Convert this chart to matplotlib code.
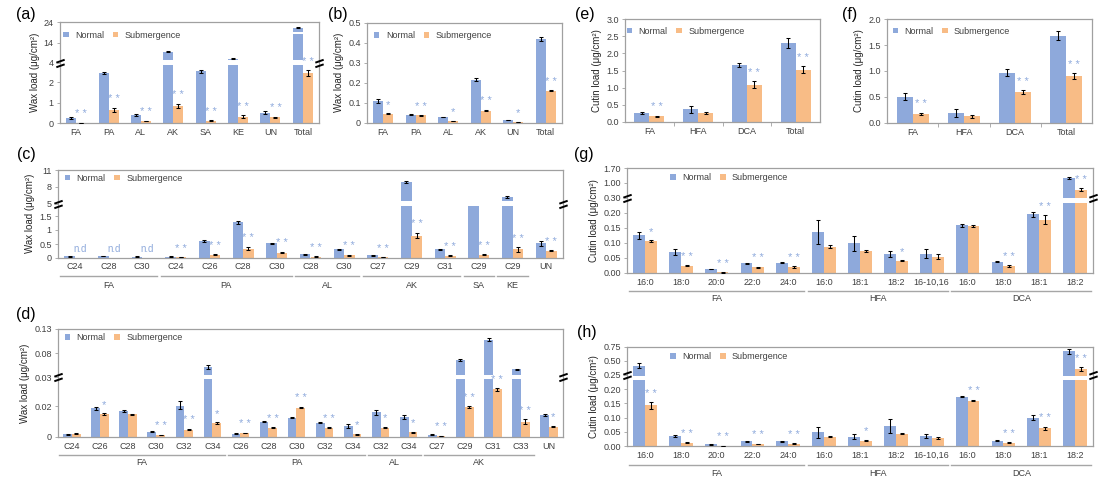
import numpy as np
import matplotlib
matplotlib.use('Agg')
import matplotlib.pyplot as plt
from matplotlib.patches import Patch
from matplotlib.path import Path

plt.rcParams['font.family'] = ['Liberation Sans', 'DejaVu Sans']

BLUE = '#8EA9DB'
ORANGE = '#F8BC86'
STAR = '#8FAADC'
FRAME = '#A0A0A0'
TXT = '#404040'

# ---------------- data ----------------
a_cats = ['FA', 'PA', 'AL', 'AK', 'SA', 'KE', 'UN', 'Total']
a_normal = [0.24, 2.93, 0.40, 9.4, 3.10, 5.9, 0.52, 21.3]
a_sub = [0.02, 0.65, 0.11, 0.84, 0.13, 0.32, 0.29, 2.93]
a_nerr = [0.05, 0.12, 0.03, 0.25, 0.12, 0.25, 0.08, 0.3]
a_serr = [0.01, 0.10, 0.02, 0.12, 0.02, 0.06, 0.03, 0.30]
a_stars = ['**'] * 8
a_ticks = [0, 1, 2, 4, 14, 24]

b_cats = ['FA', 'PA', 'AL', 'AK', 'UN', 'Total']
b_normal = [0.11, 0.04, 0.028, 0.215, 0.012, 0.42]
b_sub = [0.045, 0.036, 0.008, 0.06, 0.004, 0.16]
b_nerr = [0.01, 0.002, 0.002, 0.007, 0.001, 0.01]
b_serr = [0.003, 0.002, 0.002, 0.004, 0.001, 0.003]
b_stars = ['*', '**', '*', '**', '*', '**']
b_ticks = [0, 0.1, 0.2, 0.3, 0.4, 0.5]

c_cats = ['C24', 'C28', 'C30', 'C24', 'C26', 'C28', 'C30', 'C28', 'C30',
          'C27', 'C29', 'C31', 'C29', 'C29', 'UN']
c_normal = [0.04, 0.06, 0.03, 0.03, 0.6, 1.28, 0.52, 0.12, 0.3, 0.08, 8.8, 0.3, 4.2, 6.2, 0.52]
c_sub = [0, 0, 0, 0.005, 0.11, 0.33, 0.18, 0.03, 0.08, 0.01, 0.8, 0.06, 0.11, 0.3, 0.25]
c_nerr = [0.01, 0.01, 0.01, 0.01, 0.03, 0.06, 0.02, 0.01, 0.02, 0.01, 0.15, 0.02, 0, 0.2, 0.1]
c_serr = [0, 0, 0, 0.002, 0.02, 0.06, 0.03, 0.01, 0.02, 0.005, 0.1, 0.02, 0.02, 0.08, 0.02]
c_stars = ['n.d', 'n.d', 'n.d', '**', '**', '**', '**', '**', '**', '**', '**', '**', '**', '**', '**']
c_groups = [('FA', 0, 2), ('PA', 3, 6), ('AL', 7, 8), ('AK', 9, 11), ('SA', 12, 12), ('KE', 13, 13)]
c_ticks = [0, 0.5, 1, 1.5, 5, 8, 11]

d_cats = ['C24', 'C26', 'C28', 'C30', 'C32', 'C34', 'C26', 'C28', 'C30', 'C32', 'C34',
          'C32', 'C34', 'C27', 'C29', 'C31', 'C33', 'UN']
d_normal = [0.0017, 0.0185, 0.0167, 0.0033, 0.020, 0.052, 0.002, 0.0098, 0.0124, 0.0091, 0.007,
            0.0159, 0.0128, 0.0013, 0.066, 0.108, 0.0467, 0.0141]
d_sub = [0.002, 0.0148, 0.0146, 0.001, 0.0046, 0.0087, 0.0024, 0.0059, 0.019, 0.0059, 0.0017,
         0.0059, 0.0028, 0.0005, 0.0193, 0.0258, 0.0098, 0.0065]
d_nerr = [0.0003, 0.001, 0.0008, 0.0004, 0.0018, 0.004, 0.0003, 0.0004, 0.0005, 0.0004, 0.0015,
          0.0015, 0.0012, 0.0002, 0.002, 0.003, 0.001, 0.0006]
d_serr = [0.0003, 0.0005, 0.0004, 0.0002, 0.0005, 0.0006, 0.0003, 0.0004, 0.0005, 0.0004, 0.0003,
          0.0005, 0.0004, 0.0002, 0.0005, 0.0004, 0.0015, 0.0005]
d_stars = ['', '*', '', '**', '**', '*', '**', '**', '**', '**', '*', '*', '*', '**', '**', '**', '**', '*']
d_groups = [('FA', 0, 5), ('PA', 6, 10), ('AL', 11, 12), ('AK', 13, 16)]
d_ticks = [0, 0.02, 0.03, 0.08, 0.13]

e_cats = ['FA', 'HFA', 'DCA', 'Total']
e_normal = [0.26, 0.36, 1.65, 2.30]
e_sub = [0.16, 0.25, 1.08, 1.52]
e_nerr = [0.02, 0.10, 0.06, 0.14]
e_serr = [0.02, 0.03, 0.10, 0.10]
e_stars = ['**', '', '**', '**']
e_ticks = [0.0, 0.5, 1.0, 1.5, 2.0, 2.5, 3.0]

f_cats = ['FA', 'HFA', 'DCA', 'Total']
f_normal = [0.50, 0.19, 0.97, 1.68]
f_sub = [0.17, 0.12, 0.59, 0.90]
f_nerr = [0.07, 0.08, 0.07, 0.09]
f_serr = [0.02, 0.02, 0.04, 0.06]
f_stars = ['**', '', '**', '**']
f_ticks = [0.0, 0.5, 1.0, 1.5, 2.0]

g_cats = ['16:0', '18:0', '20:0', '22:0', '24:0', '16:0', '18:1', '18:2', '16-10,16',
          '16:0', '18:0', '18:1', '18:2']
g_normal = [0.125, 0.07, 0.013, 0.031, 0.034, 0.137, 0.098, 0.064, 0.064, 0.158, 0.037, 0.196, 1.22]
g_sub = [0.105, 0.023, 0.001, 0.018, 0.019, 0.087, 0.073, 0.040, 0.053, 0.157, 0.022, 0.176, 0.67]
g_nerr = [0.012, 0.01, 0.001, 0.003, 0.002, 0.04, 0.025, 0.01, 0.015, 0.005, 0.002, 0.01, 0.03]
g_serr = [0.003, 0.002, 0.0005, 0.002, 0.002, 0.005, 0.003, 0.002, 0.008, 0.003, 0.003, 0.015, 0.06]
g_stars = ['*', '**', '**', '**', '**', '', '', '*', '', '', '**', '**', '**']
g_groups = [('FA', 0, 4), ('HFA', 5, 8), ('DCA', 9, 12)]
g_ticks = [0.0, 0.05, 0.10, 0.15, 0.20, 0.30, 1.00, 1.70]

h_cats = g_cats
h_normal = [0.413, 0.035, 0.006, 0.016, 0.017, 0.048, 0.033, 0.070, 0.035, 0.174, 0.019, 0.100, 0.667]
h_sub = [0.143, 0.012, 0.001, 0.007, 0.008, 0.033, 0.019, 0.044, 0.028, 0.160, 0.012, 0.062, 0.355]
h_nerr = [0.04, 0.003, 0.001, 0.002, 0.002, 0.02, 0.008, 0.024, 0.008, 0.003, 0.002, 0.01, 0.04]
h_serr = [0.012, 0.002, 0.0005, 0.001, 0.001, 0.003, 0.003, 0.003, 0.003, 0.003, 0.002, 0.005, 0.03]
h_stars = ['**', '**', '**', '**', '**', '', '*', '', '', '**', '**', '**', '**']
h_groups = g_groups
h_ticks = [0.0, 0.05, 0.10, 0.15, 0.20, 0.25, 0.50, 0.75]

WAX = 'Wax load (\u03bcg/cm\u00b2)'
CUT = 'Cutin load (\u03bcg/cm\u00b2)'

# ---------------- figure ----------------
W, H = 1108, 478
fig = plt.figure(figsize=(W / 100, H / 100), dpi=100)


def piecewise(kv, kp):
    kv = np.asarray(kv, float)
    kp = np.asarray(kp, float)
    s0 = (kp[1] - kp[0]) / (kv[1] - kv[0])
    s1 = (kp[-1] - kp[-2]) / (kv[-1] - kv[-2])

    def fwd(v):
        v = np.asarray(v, float)
        out = np.interp(v, kv, kp)
        out = np.where(v < kv[0], kp[0] + (v - kv[0]) * s0, out)
        out = np.where(v > kv[-1], kp[-1] + (v - kv[-1]) * s1, out)
        return out

    def inv(p):
        p = np.asarray(p, float)
        out = np.interp(p, kp, kv)
        out = np.where(p < kp[0], kv[0] + (p - kp[0]) / s0, out)
        out = np.where(p > kp[-1], kv[-1] + (p - kp[-1]) / s1, out)
        return out
    return fwd, inv


BRK = Path([(-1, -0.9), (1, -0.2), (-1, 0.2), (1, 0.9)],
           [Path.MOVETO, Path.LINETO, Path.MOVETO, Path.LINETO])


def panel(rect, cats, nv, sv, ne, se, stars, ticks, ticklabels, ylabel, letter, letter_xy,
          leg_xy, knots_px=None, gap_px=None, brk=None, groups=None, group_px=(18, 28),
          bar_w=0.31, sep_ticks=False, tick_pad=3.5):
    l, r, t, b = rect
    ax = fig.add_axes([l / W, 1 - b / H, (r - l) / W, (b - t) / H])
    axh = b - t
    x = np.arange(len(cats))
    inv = None
    if knots_px is not None:
        fwd, inv = piecewise(ticks, knots_px)
        ax.set_yscale('function', functions=(fwd, inv))
    ax.set_ylim(ticks[0], ticks[-1])
    ax.set_xlim(-0.5, len(cats) - 0.5)

    ne = np.where(np.asarray(ne) > 0, ne, np.nan)
    se = np.where(np.asarray(se) > 0, se, np.nan)
    ekw = dict(ecolor='black', elinewidth=0.75, capsize=1.7, capthick=0.75, zorder=3)
    ax.bar(x - bar_w / 2, nv, bar_w, color=BLUE, yerr=ne, error_kw=ekw, zorder=1)
    ax.bar(x + bar_w / 2, sv, bar_w, color=ORANGE, yerr=se, error_kw=ekw, zorder=1)

    if gap_px is not None and inv is not None:
        for g0, g1, which in gap_px:
            lo, hi = float(inv(g0)), float(inv(g1))
            if which is None:
                ax.axhspan(lo, hi, color='white', lw=0, zorder=1.5)
            else:
                ax.bar(which - bar_w / 2, hi - lo, bar_w * 1.08, bottom=lo, color='white',
                       lw=0, zorder=1.5)

    for i, s in enumerate(stars):
        if not s:
            continue
        top = sv[i] + (0 if np.isnan(se[i]) else se[i])
        if s == 'n.d':
            ax.annotate(s, (x[i] + bar_w / 2, top), xytext=(0, 2.5), textcoords='offset points',
                        ha='center', va='bottom', fontsize=7, color=STAR)
        else:
            ax.annotate(s.replace('**', '* *'), (x[i] + bar_w / 2, top), xytext=(0, 2.5),
                        textcoords='offset points', ha='center', va='bottom', fontsize=8,
                        color=STAR)

    if brk is not None:
        ax.plot([0, 1], [brk, brk], transform=ax.get_yaxis_transform(), marker=BRK, ms=6,
                mew=1.4, color='black', ls='none', clip_on=False, zorder=6)

    ax.set_yticks(ticks)
    ax.set_yticklabels(ticklabels)
    ax.set_xticks(x)
    ax.set_xticklabels(cats)
    ax.tick_params(axis='x', length=0, pad=tick_pad, labelsize=6.5, labelcolor=TXT)
    ax.tick_params(axis='y', length=2.5, width=0.6, color=FRAME, pad=2, labelsize=6.5,
                   labelcolor=TXT)
    if sep_ticks:
        ax.set_xticks(np.arange(len(cats) - 1) + 0.5, minor=True)
        ax.tick_params(axis='x', which='minor', length=3, width=0.6, color=FRAME, direction='out')
    for sp in ax.spines.values():
        sp.set_color(FRAME)
        sp.set_linewidth(0.9)
    ax.set_ylabel(ylabel, fontsize=7, color='#262626', labelpad=3)

    if groups:
        tr = ax.get_xaxis_transform()
        for name, i0, i1 in groups:
            ax.plot([i0 - 0.45, i1 + 0.45], [-group_px[0] / axh] * 2, transform=tr,
                    color='#A6A6A6', lw=1.0, clip_on=False)
            ax.text((i0 + i1) / 2, -group_px[1] / axh, name, transform=tr, ha='center',
                    va='center', fontsize=6.5, color=TXT)

    ax.legend(handles=[Patch(facecolor=BLUE, edgecolor='none', label='Normal'),
                       Patch(facecolor=ORANGE, edgecolor='none', label='Submergence')],
              loc='center left', bbox_to_anchor=leg_xy, ncol=2, frameon=False, fontsize=6.5,
              handlelength=0.6, handleheight=0.6, handletextpad=0.7, columnspacing=1.0,
              borderpad=0, borderaxespad=0, labelcolor=TXT)
    fig.text(letter_xy[0] / W, 1 - letter_xy[1] / H, letter, fontsize=11.5, ha='center',
             va='center')
    return ax


# (a)
panel((60, 319, 22, 123.3), a_cats, a_normal, a_sub, a_nerr, a_serr, a_stars, a_ticks,
      ['0', '1', '2', '4', '14', '24'], WAX, '(a)', (26, 15), (0.012, 0.87),
      knots_px=[0, 20.6, 41.3, 60.6, 80.6, 101.3],
      gap_px=[(58.3, 63.3, None), (89.0, 91.0, 7)], brk=4)

# (b)
panel((367, 562, 22.7, 122.7), b_cats, b_normal, b_sub, b_nerr, b_serr, b_stars, b_ticks,
      ['0', '0.1', '0.2', '0.3', '0.4', '0.5'], WAX, '(b)', (338, 15), (0.036, 0.87))

# (e)
panel((625, 820, 19.3, 121.7), e_cats, e_normal, e_sub, e_nerr, e_serr, e_stars, e_ticks,
      ['0.0', '0.5', '1.0', '1.5', '2.0', '2.5', '3.0'], CUT, '(e)', (585, 15), (0.008, 0.883),
      sep_ticks=True)

# (f)
panel((887, 1092, 19.3, 122.7), f_cats, f_normal, f_sub, f_nerr, f_serr, f_stars, f_ticks,
      ['0.0', '0.5', '1.0', '1.5', '2.0'], CUT, '(f)', (850, 15), (0.027, 0.885),
      sep_ticks=True)

# (c)
panel((58, 563, 170, 257.5), c_cats, c_normal, c_sub, c_nerr, c_serr, c_stars, c_ticks,
      ['0', '0.5', '1', '1.5', '5', '8', '11'], WAX, '(c)', (26, 155), (0.013, 0.905),
      knots_px=[0, 13.5, 27.6, 41.1, 54, 70.7, 87.5],
      gap_px=[(51.5, 56.3, None)], brk=5, groups=c_groups, group_px=(18, 28), bar_w=0.31)

# (d)
panel((58, 563, 329, 436.7), d_cats, d_normal, d_sub, d_nerr, d_serr, d_stars, d_ticks,
      ['0', '0.02', '0.03', '0.08', '0.13'], WAX, '(d)', (26, 315), (0.013, 0.917),
      knots_px=[0, 30.7, 59.3, 83.3, 107.7],
      gap_px=[(57.3, 61.7, None)], brk=0.03, groups=d_groups, group_px=(18, 26), bar_w=0.31)

# (g)
panel((627, 1093, 168, 272.7), g_cats, g_normal, g_sub, g_nerr, g_serr, g_stars, g_ticks,
      ['0.00', '0.05', '0.10', '0.15', '0.20', '0.30', '1.00', '1.70'], CUT, '(g)', (584, 155),
      (0.093, 0.905), knots_px=[0, 15, 30, 45, 60, 75, 90, 104.7],
      gap_px=[(70, 74.4, None)], brk=0.30, groups=g_groups, group_px=(18, 26), bar_w=0.33)

# (h)
panel((627, 1093, 346.7, 446), h_cats, h_normal, h_sub, h_nerr, h_serr, h_stars, h_ticks,
      ['0.00', '0.05', '0.10', '0.15', '0.20', '0.25', '0.50', '0.75'], CUT, '(h)', (587, 332),
      (0.093, 0.9), knots_px=[0, 14.2, 28.4, 42.6, 56.8, 71, 85.2, 99.3],
      gap_px=[(66, 70.5, None)], brk=0.25, groups=h_groups, group_px=(19, 27), bar_w=0.33)

fig.savefig('out.png', dpi=100)
